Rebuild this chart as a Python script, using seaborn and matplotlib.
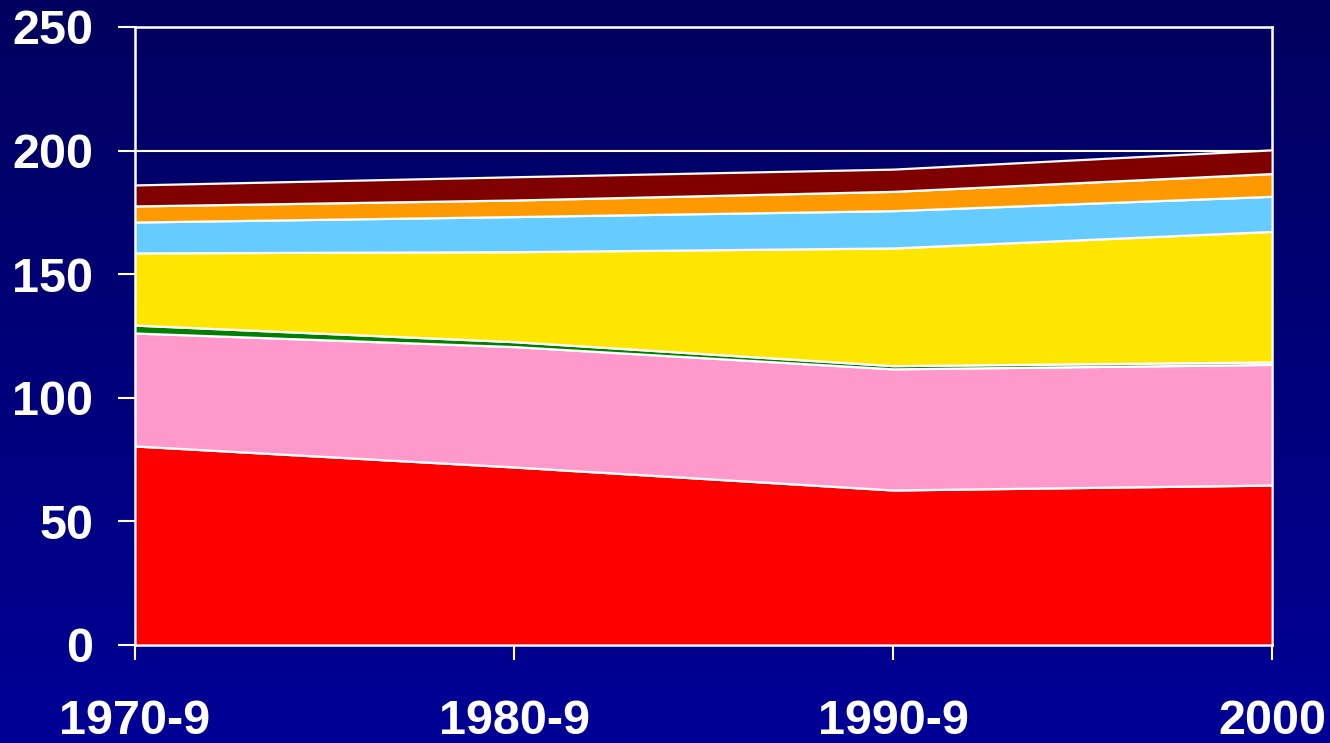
import numpy as np
import matplotlib
matplotlib.use("Agg")
import matplotlib.pyplot as plt
import seaborn as sns
from matplotlib.colors import LinearSegmentedColormap

periods = ["1970-9", "1980-9", "1990-9", "2000"]

red = [80.5, 72.0, 62.7, 64.7]
pink = [45.7, 48.7, 49.0, 48.8]
green = [3.2, 2.0, 1.3, 1.0]
yellow = [29.2, 36.4, 47.6, 52.8]
light_blue = [12.5, 14.2, 15.1, 14.2]
orange = [6.5, 6.7, 7.8, 9.2]
dark_red = [8.5, 9.4, 9.0, 9.6]

layer_colors = ["#FF0000", "#FF99CC", "#008000", "#FFE600",
                "#66CCFF", "#FF9900", "#800000"]

sns.set_style("white")
plt.rcParams["font.family"] = ["Liberation Sans", "DejaVu Sans"]

fig = plt.figure(figsize=(13.3, 7.43), dpi=100)

# background gradient, dark navy at the top to blue at the bottom
bg_ax = fig.add_axes([0, 0, 1, 1], zorder=-1)
grad = np.linspace(0, 1, 256).reshape(-1, 1)
cmap = LinearSegmentedColormap.from_list("bg", ["#00005E", "#000096"])
bg_ax.imshow(grad, aspect="auto", cmap=cmap, extent=[0, 1, 0, 1], origin="upper")
bg_ax.axis("off")

ax = fig.add_axes([0.1015, 0.1319, 0.855, 0.8318])
ax.patch.set_alpha(0)

x = np.arange(len(periods))
ax.stackplot(x, red, pink, green, yellow, light_blue, orange, dark_red,
             colors=layer_colors, edgecolor="white", linewidth=1.6, zorder=3)

ax.set_xlim(0, 3)
ax.set_ylim(0, 250)
ax.set_yticks(range(0, 251, 50))
ax.set_xticks(x)
ax.set_xticklabels(periods)

ax.yaxis.grid(True, color="white", linewidth=1.5, zorder=1)
ax.set_axisbelow(True)

for side in ["left", "top", "right", "bottom"]:
    ax.spines[side].set_visible(True)
    ax.spines[side].set_color("white")
    ax.spines[side].set_linewidth(1.8)

ax.tick_params(axis="y", direction="out", length=12, width=1.5, color="white",
               labelcolor="white", labelsize=35, pad=18, left=True)
ax.tick_params(axis="x", direction="out", length=11, width=1.5, color="white",
               labelcolor="white", labelsize=35, pad=28, bottom=True)
for lbl in ax.get_xticklabels() + ax.get_yticklabels():
    lbl.set_fontweight("bold")

fig.savefig("out.png", dpi=100)
